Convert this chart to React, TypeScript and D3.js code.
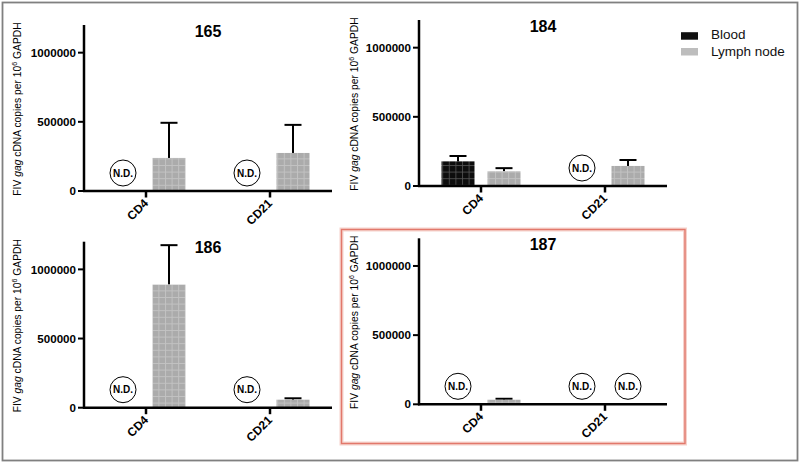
import React from "react";
import * as d3 from "d3";

// ---- data ----
const categories = ["CD4", "CD21"];
const seriesNames = ["Blood", "Lymph node"];
const panelTitles = ["165", "184", "186", "187"];
// null = N.D. (not detected)
const bloodMeans: (number | null)[][] = [
  [null, null],
  [178000, null],
  [null, null],
  [null, null],
];
const bloodUpper: (number | null)[][] = [
  [null, null],
  [217000, null],
  [null, null],
  [null, null],
];
const lymphMeans: (number | null)[][] = [
  [239000, 275000],
  [106000, 145000],
  [890000, 58000],
  [33000, null],
];
const lymphUpper: (number | null)[][] = [
  [493000, 478000],
  [129000, 188000],
  [1175000, 68000],
  [40000, null],
];
const yTicks = [0, 500000, 1000000];
const yMax = 1200000;

// ---- layout ----
const panelLayout = [
  { x0: 84, x1: 332, yb: 191, labelX: 21 },
  { x0: 419, x1: 667, yb: 186, labelX: 358 },
  { x0: 84, x1: 332, yb: 407.7, labelX: 21 },
  { x0: 419, x1: 667, yb: 404.3, labelX: 358 },
];
const plotH = 166;
const FONT = "'Liberation Sans', Arial, Helvetica, sans-serif";
const seriesFill = ["url(#patBlood)", "url(#patLymph)"];

function Panel({ idx }: { idx: number }) {
  const L = panelLayout[idx];
  const y = d3.scaleLinear().domain([0, yMax]).range([L.yb, L.yb - plotH]);
  const x = d3.scaleBand().domain(categories).range([L.x0, L.x1]).padding(0);
  const sub = d3.scalePoint().domain(seriesNames).range([-23, 23]);
  const barW = 33;
  const means = [bloodMeans[idx], lymphMeans[idx]];
  const uppers = [bloodUpper[idx], lymphUpper[idx]];
  const yTop = y(yMax);
  const midX = (L.x0 + L.x1) / 2;
  const labelMid = (L.yb + yTop) / 2 + 1;
  return (
    <g>
      {/* y label */}
      <text
        transform={`translate(${L.labelX},${labelMid}) rotate(-90)`}
        textAnchor="middle"
        fontFamily={FONT}
        fontSize={10.3}
        fill="#000"
      >
        FIV <tspan fontStyle="italic">gag</tspan> cDNA copies per 10
        <tspan fontSize={7} dy={-4}>6</tspan>
        <tspan dy={4}> GAPDH</tspan>
      </text>
      {/* title */}
      <text
        x={midX}
        y={yTop + 11.5}
        textAnchor="middle"
        fontFamily={FONT}
        fontWeight="bold"
        fontSize={16}
      >
        {panelTitles[idx]}
      </text>
      {/* bars */}
      {categories.map((c, ci) =>
        seriesNames.map((s, si) => {
          const cx = (x(c) as number) + x.bandwidth() / 2 + (sub(s) as number);
          const m = means[si][ci];
          if (m === null) {
            return (
              <g key={c + s}>
                <circle cx={cx} cy={L.yb - 18} r={13} fill="#fff" stroke="#000" strokeWidth={1} />
                <text
                  x={cx}
                  y={L.yb - 18}
                  dy="0.35em"
                  textAnchor="middle"
                  fontFamily={FONT}
                  fontWeight="bold"
                  fontSize={10}
                >
                  N.D.
                </text>
              </g>
            );
          }
          const u = uppers[si][ci] as number;
          return (
            <g key={c + s}>
              <line x1={cx} x2={cx} y1={y(m)} y2={y(u)} stroke="#000" strokeWidth={2} />
              <line x1={cx - 8.5} x2={cx + 8.5} y1={y(u)} y2={y(u)} stroke="#000" strokeWidth={2} />
              <rect x={cx - barW / 2} y={y(m)} width={barW} height={L.yb - y(m)} fill={seriesFill[si]} />
            </g>
          );
        })
      )}
      {/* axes */}
      <line x1={L.x0} x2={L.x0} y1={yTop} y2={L.yb + 1} stroke="#000" strokeWidth={2.5} />
      <line x1={L.x0 - 1} x2={L.x1} y1={L.yb} y2={L.yb} stroke="#000" strokeWidth={2.5} />
      {yTicks.map((t) => (
        <g key={t}>
          <line x1={L.x0 - 6} x2={L.x0} y1={y(t)} y2={y(t)} stroke="#000" strokeWidth={2} />
          <text
            x={L.x0 - 8}
            y={y(t)}
            dy="0.36em"
            textAnchor="end"
            fontFamily={FONT}
            fontWeight="bold"
            fontSize={11.6}
          >
            {t}
          </text>
        </g>
      ))}
      {categories.map((c) => {
        const cx = (x(c) as number) + x.bandwidth() / 2;
        return (
          <g key={c}>
            <line x1={cx} x2={cx} y1={L.yb} y2={L.yb + 6.5} stroke="#000" strokeWidth={2.5} />
            <text
              transform={`translate(${cx + 3},${L.yb + 13}) rotate(-45)`}
              textAnchor="end"
              fontFamily={FONT}
              fontWeight="bold"
              fontSize={12}
            >
              {c}
            </text>
          </g>
        );
      })}
    </g>
  );
}

export default function App() {
  return (
    <svg
      width={800}
      height={463}
      style={{ position: "fixed", left: 0, top: 0, background: "#fff" }}
    >
      <defs>
        <pattern id="patLymph" patternUnits="userSpaceOnUse" width={6.6} height={6.6}>
          <rect width={6.6} height={6.6} fill="#ababab" />
          <path d="M0,0.5H6.6M0.5,0V6.6" stroke="#c2c2c2" strokeWidth={1} />
        </pattern>
        <pattern id="patBlood" patternUnits="userSpaceOnUse" width={6.6} height={6.6}>
          <rect width={6.6} height={6.6} fill="#0d0d0d" />
          <path d="M0,0.5H6.6M0.5,0V6.6" stroke="#555" strokeWidth={0.8} />
        </pattern>
      </defs>
      <rect x={0} y={0} width={800} height={463} fill="#fff" />
      <rect x={2.5} y={2.5} width={795} height={458} fill="none" stroke="#808080" strokeWidth={1.8} />
      {/* highlight box around 187 */}
      <rect x={341.5} y={229.5} width={343.5} height={214} fill="none" stroke="#f6d2cc" strokeWidth={4} />
      <rect x={341.5} y={229.5} width={343.5} height={214} fill="none" stroke="#e2786b" strokeWidth={1.4} />
      {panelTitles.map((_, i) => (
        <Panel key={i} idx={i} />
      ))}
      {/* legend */}
      {seriesNames.map((s, i) => (
        <g key={s}>
          <rect x={681} y={32.2 + i * 15.8} width={17} height={7.5} fill={i === 0 ? "#111" : "#bdbdbd"} />
          <text x={711} y={38.5 + i * 17.8} fontFamily={FONT} fontSize={13.5} fill="#111">
            {s}
          </text>
        </g>
      ))}
    </svg>
  );
}
